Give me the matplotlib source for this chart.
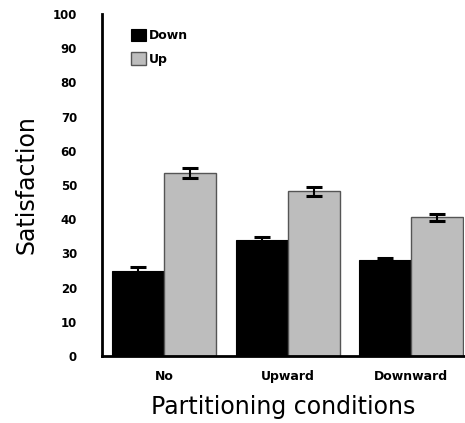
import numpy as np
import matplotlib
matplotlib.use("Agg")
import matplotlib.pyplot as plt

conditions = ["No", "Upward", "Downward"]
down_vals = [25.0, 33.8, 28.0]
up_vals = [53.5, 48.2, 40.5]
down_err = [1.0, 1.0, 0.8]
up_err = [1.5, 1.3, 1.1]
yticks = list(range(0, 101, 10))

fig = plt.figure(figsize=(4.65, 4.23), dpi=100)
ax = fig.add_axes([102 / 465, 1 - 356 / 423, 362 / 465, 342 / 423])

x = np.arange(len(conditions))
w = 0.42
ax.bar(x - w / 2, down_vals, w, color="black", edgecolor="black", linewidth=0.8,
       label="Down", zorder=2)
ax.bar(x + w / 2, up_vals, w, color="#bdbdbd", edgecolor="#555555", linewidth=1.0,
       label="Up", zorder=2)
ax.errorbar(x - w / 2, down_vals, yerr=down_err, fmt="none", ecolor="black",
            elinewidth=1.5, capsize=5.5, capthick=2.2, zorder=3)
ax.errorbar(x + w / 2, up_vals, yerr=up_err, fmt="none", ecolor="black",
            elinewidth=1.5, capsize=5.5, capthick=2.2, zorder=3)

ax.set_xlim(-0.5, 2 + w + 0.005)
ax.set_ylim(0, 100)
ax.set_yticks(yticks)
ax.set_xticks(x)
ax.set_xticklabels(conditions, fontsize=9, fontweight="bold")
ax.tick_params(axis="y", length=0, pad=18, labelsize=8.5)
ax.tick_params(axis="x", length=0, pad=10)
for lab in ax.get_yticklabels():
    lab.set_fontweight("bold")

for s in ["top", "right"]:
    ax.spines[s].set_visible(False)
ax.spines["left"].set_linewidth(2)
ax.spines["bottom"].set_linewidth(2)

ax.set_ylabel("Satisfaction", fontsize=17, labelpad=10)
ax.set_xlabel("Partitioning conditions", fontsize=17, labelpad=9)

leg = ax.legend(loc="upper left", bbox_to_anchor=(0.05, 0.99), frameon=False,
                handlelength=1.2, handleheight=1.2, handletextpad=0.2,
                labelspacing=0.8, prop={"weight": "bold", "size": 9})

fig.savefig("out.png", dpi=100)
